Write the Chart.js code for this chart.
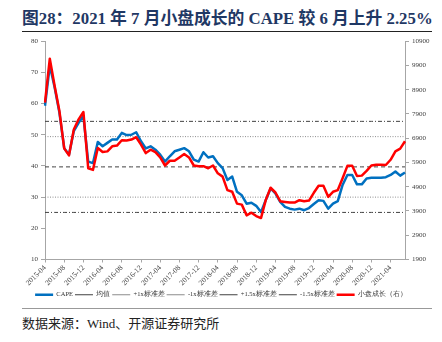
<!DOCTYPE html>
<html>
<head>
<meta charset="utf-8">
<script src="https://cdn.jsdelivr.net/npm/chart.js@4.4.0/dist/chart.umd.min.js"></script>
<style>
  html, body { margin: 0; padding: 0; background: #fff; }
  body { width: 442px; height: 342px; position: relative; overflow: hidden; font-family: "Liberation Serif", "Noto Sans CJK SC", serif; }
  #title { position: absolute; left: 22px; top: 9px; width: 420px; font-size: 16.8px; font-weight: bold; color: #1f3864; white-space: nowrap; line-height: 20px; }
  #topRule { position: absolute; left: 22px; top: 31px; width: 410px; height: 0; border-top: 1.5px solid #222; }
  #chartBox { position: absolute; left: 0; top: 34px; width: 442px; height: 274px; }
  #bottomRule { position: absolute; left: 22px; top: 308px; width: 410px; height: 0; border-top: 1.5px solid #999; }
  #source { position: absolute; left: 22px; top: 315px; font-size: 13px; color: #222; line-height: 18px; white-space: nowrap; }
</style>
</head>
<body>
<div id="title">图28：2021 年 7 月小盘成长的 CAPE 较 6 月上升 2.25%</div>
<div id="topRule"></div>
<div id="chartBox"><canvas id="capeChart"></canvas></div>
<div id="bottomRule"></div>
<div id="source">数据来源：Wind、开源证券研究所</div>
<script>
const months = [
  "2015-04","2015-05","2015-06","2015-07","2015-08","2015-09","2015-10","2015-11","2015-12",
  "2016-01","2016-02","2016-03","2016-04","2016-05","2016-06","2016-07","2016-08","2016-09","2016-10","2016-11","2016-12",
  "2017-01","2017-02","2017-03","2017-04","2017-05","2017-06","2017-07","2017-08","2017-09","2017-10","2017-11","2017-12",
  "2018-01","2018-02","2018-03","2018-04","2018-05","2018-06","2018-07","2018-08","2018-09","2018-10","2018-11","2018-12",
  "2019-01","2019-02","2019-03","2019-04","2019-05","2019-06","2019-07","2019-08","2019-09","2019-10","2019-11","2019-12",
  "2020-01","2020-02","2020-03","2020-04","2020-05","2020-06","2020-07","2020-08","2020-09","2020-10","2020-11","2020-12",
  "2021-01","2021-02","2021-03","2021-04","2021-05","2021-06","2021-07"
];

// CAPE (left axis)
const cape = [
  59.3, 72.2, 65.2, 57.1, 45.7, 43.6, 51.2, 53.8, 56.0, 41.4, 40.9, 47.7, 46.3, 47.4, 48.5, 48.5,
  50.6, 49.9, 50.0, 50.8, 47.9, 45.6, 46.3, 45.2, 43.6, 41.4, 43.1, 44.7, 45.2, 45.7, 44.7, 42.0,
  41.4, 44.4, 42.7, 43.1, 40.9, 39.3, 35.5, 36.6, 31.7, 30.6, 27.9, 28.2, 27.2, 25.2, 29.1, 32.8,
  31.2, 28.5, 26.9, 26.3, 26.0, 26.3, 25.8, 26.5, 27.8, 29.0, 28.8, 26.3, 27.9, 28.7, 33.9, 37.1,
  37.1, 34.1, 34.1, 36.0, 36.2, 36.2, 36.2, 36.4, 37.1, 38.2, 36.9, 37.9
];

// 小盘成长 index (right axis)
const smallGrowth = [
  8371, 10179, 9067, 8025, 6483, 6192, 7262, 7679, 7983, 5662, 5596, 6496, 6329, 6358, 6567, 6596,
  6817, 6804, 6846, 6942, 6637, 6287, 6429, 6329, 6108, 5775, 5971, 5971, 6108, 6246, 6108, 5775,
  5746, 5746, 5662, 5775, 5454, 5317, 4762, 4692, 4204, 4162, 3721, 3829, 3692, 3608, 4358, 4858,
  4662, 4304, 4275, 4246, 4246, 4346, 4304, 4329, 4650, 4942, 4942, 4483, 4692, 4762, 5246, 5762,
  5762, 5346, 5358, 5554, 5775, 5804, 5804, 5796, 6012, 6358, 6471, 6775
];

const capeMean = 39.7;
const plus1Std = 49.4;
const minus1Std = 30.0;
const plus15Std = 54.3;
const minus15Std = 25.1;

const leftTicks = { min: 10, max: 80, step: 10 };
const rightTicks = { min: 1900, max: 10900, step: 1000 };

const tickFont = { family: "Liberation Serif", size: 7 };
const flat = (v) => months.map(() => v);

const ctx = document.getElementById("capeChart").getContext("2d");

new Chart(ctx, {
  type: "line",
  data: {
    labels: months,
    datasets: [
      { label: "CAPE", data: cape, yAxisID: "y", borderColor: "#0070c0", borderWidth: 2.5, order: 1 },
      { label: "均值", data: flat(capeMean), yAxisID: "y", borderColor: "#404040", borderWidth: 1, borderDash: [4, 3], order: 1 },
      { label: "+1x标准差", data: flat(plus1Std), yAxisID: "y", borderColor: "#8c8c8c", borderWidth: 1, borderDash: [1, 1.5], order: 1 },
      { label: "-1x标准差", data: flat(minus1Std), yAxisID: "y", borderColor: "#8c8c8c", borderWidth: 1, borderDash: [1, 1.5], order: 1 },
      { label: "+1.5x标准差", data: flat(plus15Std), yAxisID: "y", borderColor: "#404040", borderWidth: 1, borderDash: [4, 2, 1, 2], order: 1 },
      { label: "-1.5x标准差", data: flat(minus15Std), yAxisID: "y", borderColor: "#404040", borderWidth: 1, borderDash: [4, 2, 1, 2], order: 1 },
      { label: "小盘成长（右）", data: smallGrowth, yAxisID: "y1", borderColor: "#ff0000", borderWidth: 2.5, order: 0 },
    ],
  },
  options: {
    responsive: true,
    maintainAspectRatio: false,
    animation: false,
    layout: { padding: { top: 7, left: 0, right: 0, bottom: 0 } },
    elements: {
      point: { radius: 0 },
      line: { tension: 0, fill: false, borderJoinStyle: "round" },
    },
    plugins: {
      tooltip: { enabled: false },
      legend: {
        position: "bottom",
        labels: {
          usePointStyle: true,
          pointStyle: "line",
          pointStyleWidth: 18,
          boxHeight: 7,
          padding: 2,
          color: "#333",
          font: { family: "Liberation Serif", size: 6.5 },
          sort: (a, b) => a.datasetIndex - b.datasetIndex,
        },
      },
    },
    scales: {
      x: {
        grid: { drawOnChartArea: false, tickLength: 3, color: "#a6a6a6" },
        border: { color: "#a6a6a6" },
        ticks: {
          autoSkip: false,
          maxRotation: 45,
          minRotation: 45,
          padding: 1,
          color: "#404040",
          font: { family: "Liberation Serif", size: 7.5 },
          callback: function (v, i) {
            return i % 4 === 0 ? this.getLabelForValue(v) : null;
          },
        },
        afterFit: (scale) => { scale.height = 30; },
      },
      y: {
        position: "left",
        min: leftTicks.min,
        max: leftTicks.max,
        grid: { drawOnChartArea: false, tickLength: 4, color: "#a6a6a6" },
        border: { color: "#a6a6a6" },
        ticks: { stepSize: leftTicks.step, padding: 3, color: "#404040", font: tickFont },
        afterFit: (scale) => { scale.width = 45; },
      },
      y1: {
        position: "right",
        min: rightTicks.min,
        max: rightTicks.max,
        grid: { drawOnChartArea: false, tickLength: 4, color: "#a6a6a6" },
        border: { color: "#a6a6a6" },
        ticks: { stepSize: rightTicks.step, padding: 3, color: "#404040", font: tickFont, callback: (v) => String(v) },
        afterFit: (scale) => { scale.width = 37; },
      },
    },
  },
});
</script>
</body>
</html>
